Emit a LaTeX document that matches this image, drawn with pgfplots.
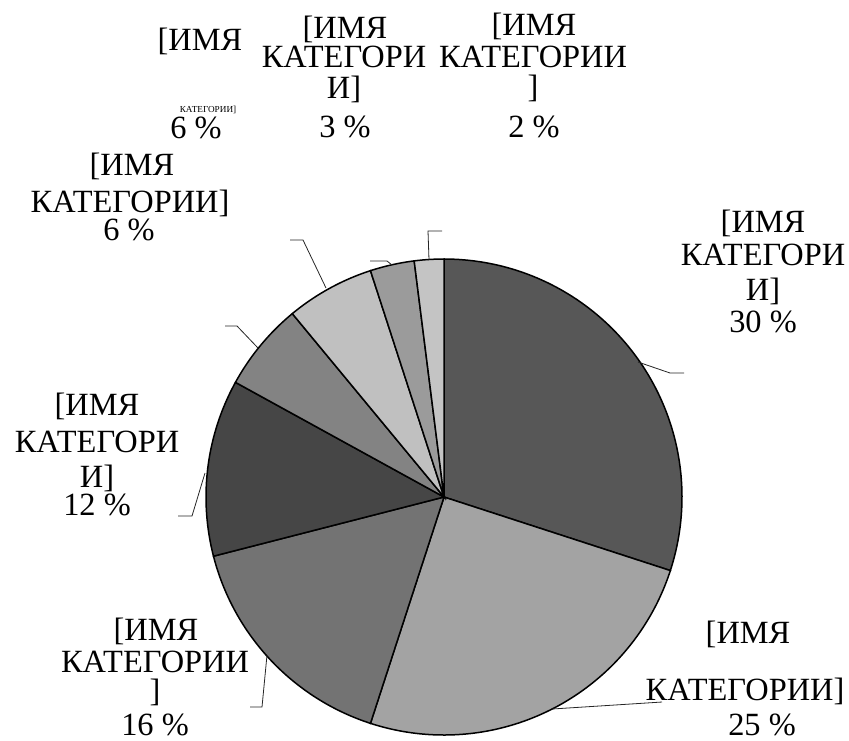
\documentclass[border=0pt]{standalone}
\usepackage{pgfplots}
\pgfplotsset{compat=1.18}
\usepackage{fontspec}
\IfFontExistsTF{LiberationSerif-Regular.ttf}
  {\newfontfamily\lsr{LiberationSerif-Regular.ttf}}
  {\newfontfamily\lsr{Liberation Serif}}
\definecolor{cA}{HTML}{575757}
\definecolor{cB}{HTML}{A3A3A3}
\definecolor{cC}{HTML}{737373}
\definecolor{cD}{HTML}{464646}
\definecolor{cE}{HTML}{838383}
\definecolor{cF}{HTML}{C0C0C0}
\definecolor{cG}{HTML}{9B9B9B}
\definecolor{cH}{HTML}{C4C4C4}
\newcommand\lbl{\lsr\fontsize{16.2}{18}\selectfont}
\newcommand\tinylbl{\lsr\fontsize{4.6}{5}\selectfont}
\begin{document}
\begin{tikzpicture}
\begin{axis}[
  width=424.5pt, height=370pt, scale only axis,
  xmin=0, xmax=849, ymin=0, ymax=740, y dir=reverse,
  hide axis, clip=false,
]
\path (axis cs:0,0) rectangle (axis cs:849,740);
% slices: values 30, 25, 16, 12, 6, 6, 3, 2 (percent), clockwise from 12 o'clock
\pgfplotsset{slice/.style={draw=black, line width=0.75pt, samples=90, variable=\t}}
\addplot[slice, fill=cA, domain=90-3.6*(30):90] ({444+238*cos(\t)},{497-238*sin(\t)}) -- (axis cs:444,497) -- cycle;
\addplot[slice, fill=cB, domain=90-3.6*(30+25):90-3.6*(30)] ({444+238*cos(\t)},{497-238*sin(\t)}) -- (axis cs:444,497) -- cycle;
\addplot[slice, fill=cC, domain=90-3.6*(30+25+16):90-3.6*(30+25)] ({444+238*cos(\t)},{497-238*sin(\t)}) -- (axis cs:444,497) -- cycle;
\addplot[slice, fill=cD, domain=90-3.6*(30+25+16+12):90-3.6*(30+25+16)] ({444+238*cos(\t)},{497-238*sin(\t)}) -- (axis cs:444,497) -- cycle;
\addplot[slice, fill=cE, domain=90-3.6*(30+25+16+12+6):90-3.6*(30+25+16+12)] ({444+238*cos(\t)},{497-238*sin(\t)}) -- (axis cs:444,497) -- cycle;
\addplot[slice, fill=cF, domain=90-3.6*(30+25+16+12+6+6):90-3.6*(30+25+16+12+6)] ({444+238*cos(\t)},{497-238*sin(\t)}) -- (axis cs:444,497) -- cycle;
\addplot[slice, fill=cG, domain=90-3.6*(30+25+16+12+6+6+3):90-3.6*(30+25+16+12+6+6)] ({444+238*cos(\t)},{497-238*sin(\t)}) -- (axis cs:444,497) -- cycle;
\addplot[slice, fill=cH, domain=90-3.6*(30+25+16+12+6+6+3+2):90-3.6*(30+25+16+12+6+6+3)] ({444+238*cos(\t)},{497-238*sin(\t)}) -- (axis cs:444,497) -- cycle;
% leader lines
\pgfplotsset{leader/.style={black!85, line width=0.4pt, mark=none}}
\addplot[leader] coordinates {(684,373) (670,373) (638,362)};
\addplot[leader] coordinates {(552,709) (662,702)};
\addplot[leader] coordinates {(250,707) (262,707) (267,655)};
\addplot[leader] coordinates {(178,516) (192,516) (205,473)};
\addplot[leader] coordinates {(225,326) (237,326) (258,348)};
\addplot[leader] coordinates {(290,240) (303,240) (326,288)};
\addplot[leader] coordinates {(370,261) (387,261) (392,265)};
\addplot[leader] coordinates {(442,231) (428,231) (429,260)};
% labels
\tikzset{lb/.style={anchor=base, inner sep=0pt, font=\lbl}}
% 30
\node[lb] at (axis cs:763,232) {[ИМЯ};
\node[lb] at (axis cs:763,265) {КАТЕГОРИ};
\node[lb] at (axis cs:763,300) {И]};
\node[lb] at (axis cs:763,332) {30 \%};
% 25
\node[lb] at (axis cs:748,643) {[ИМЯ};
\node[lb] at (axis cs:745,700) {КАТЕГОРИИ]};
\node[lb] at (axis cs:762,735) {25 \%};
% 16
\node[lb] at (axis cs:156,640) {[ИМЯ};
\node[lb] at (axis cs:155,672) {КАТЕГОРИИ};
\node[lb] at (axis cs:155,701) {]};
\node[lb] at (axis cs:155,735) {16 \%};
% 12
\node[lb] at (axis cs:97,415) {[ИМЯ};
\node[lb] at (axis cs:97,452) {КАТЕГОРИ};
\node[lb] at (axis cs:97,487) {И]};
\node[lb] at (axis cs:97,515) {12 \%};
% 6 (left)
\node[lb] at (axis cs:132,175) {[ИМЯ};
\node[lb] at (axis cs:130,212) {КАТЕГОРИИ]};
\node[lb] at (axis cs:129,240) {6 \%};
% 6 (top left)
\node[lb] at (axis cs:200,50) {[ИМЯ};
\node[anchor=base, inner sep=0pt, font=\tinylbl] at (axis cs:208,112) {КАТЕГОРИИ]};
\node[lb] at (axis cs:196,138) {6 \%};
% 3
\node[lb] at (axis cs:345,38) {[ИМЯ};
\node[lb] at (axis cs:344,67) {КАТЕГОРИ};
\node[lb] at (axis cs:344,98) {И]};
\node[lb] at (axis cs:345,137) {3 \%};
% 2
\node[lb] at (axis cs:534,35) {[ИМЯ};
\node[lb] at (axis cs:533,67) {КАТЕГОРИИ};
\node[lb] at (axis cs:533,97) {]};
\node[lb] at (axis cs:534,137) {2 \%};
\end{axis}
\end{tikzpicture}
\end{document}
